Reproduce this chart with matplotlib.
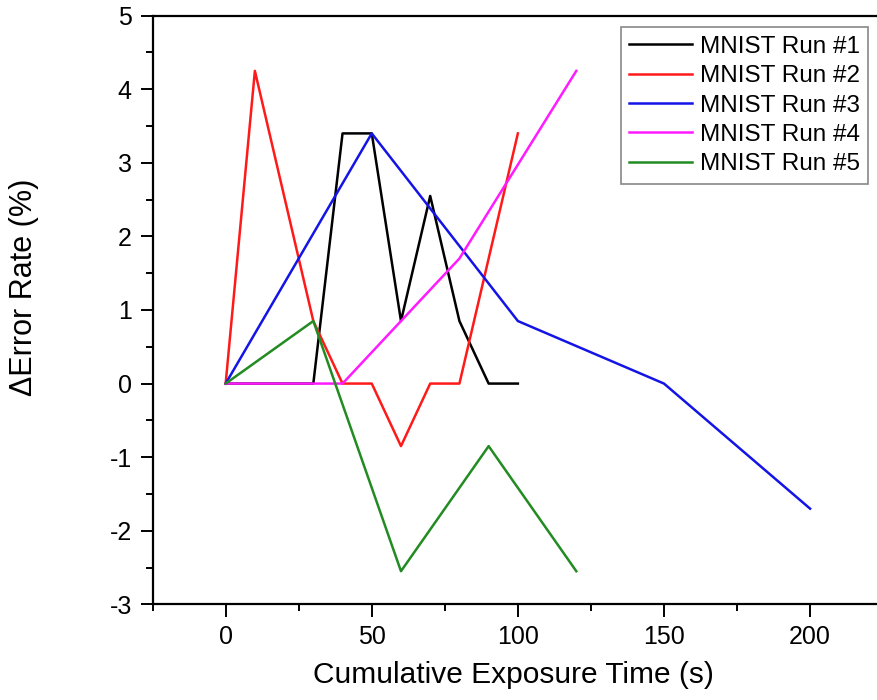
import matplotlib
matplotlib.use("Agg")
import matplotlib.pyplot as plt
from matplotlib.ticker import MultipleLocator

plt.rcParams['font.family'] = ['Liberation Sans', 'DejaVu Sans']
plt.rcParams['axes.unicode_minus'] = False

# cumulative exposure time (s) and change in error rate (%) for each run
run1_t = [0, 10, 20, 30, 40, 50, 60, 70, 80, 90, 100]
run1_err = [0, 0, 0, 0, 3.4, 3.4, 0.85, 2.55, 0.85, 0, 0]

run2_t = [0, 10, 20, 30, 40, 50, 60, 70, 80, 90, 100]
run2_err = [0, 4.25, 2.55, 0.85, 0, 0, -0.85, 0, 0, 1.7, 3.4]

run3_t = [0, 50, 100, 150, 200]
run3_err = [0, 3.4, 0.85, 0, -1.7]

run4_t = [0, 10, 20, 30, 40, 60, 80, 100, 120]
run4_err = [0, 0, 0, 0, 0, 0.85, 1.7, 2.975, 4.25]

run5_t = [0, 30, 60, 90, 120]
run5_err = [0, 0.85, -2.55, -0.85, -2.55]

labels = ['MNIST Run #1', 'MNIST Run #2', 'MNIST Run #3', 'MNIST Run #4', 'MNIST Run #5']
colors = ['black', '#ff1a1a', '#1414e6', '#ff1aff', '#228b22']

fig = plt.figure(figsize=(8.77, 7.0), dpi=100)
ax = fig.add_axes([0.174, 0.1367, 0.833, 0.8409])

runs = [(run1_t, run1_err), (run2_t, run2_err), (run3_t, run3_err),
        (run4_t, run4_err), (run5_t, run5_err)]
for (t, err), lab, col in zip(runs, labels, colors):
    ax.plot(t, err, color=col, lw=1.8, label=lab)

ax.set_xlim(-25, 225)
ax.set_ylim(-3, 5)
ax.xaxis.set_major_locator(MultipleLocator(50))
ax.xaxis.set_minor_locator(MultipleLocator(25))
ax.yaxis.set_major_locator(MultipleLocator(1))
ax.yaxis.set_minor_locator(MultipleLocator(0.5))
ax.set_xticks([0, 50, 100, 150, 200])

ax.tick_params(which='major', direction='out', length=9, width=1.4,
               labelsize=18, pad=6)
ax.tick_params(which='minor', direction='out', length=5, width=1.4)
ax.tick_params(top=False, right=False)
for side in ['left', 'bottom', 'top']:
    ax.spines[side].set_linewidth(1.6)
ax.spines['right'].set_visible(False)

ax.set_xlabel('Cumulative Exposure Time (s)', fontsize=21.5)
ax.set_ylabel('\u0394Error Rate (%)', fontsize=22)
ax.xaxis.set_label_coords(0.494, -0.097)
ax.yaxis.set_label_coords(-0.156, 0.539)

leg = ax.legend(loc='upper right', bbox_to_anchor=(0.9795, 0.980),
                borderaxespad=0, fontsize=17.5, handlelength=2.6,
                handletextpad=0.3, labelspacing=0.3, borderpad=0.35,
                fancybox=False, framealpha=1)
leg.get_frame().set_edgecolor('#888888')
leg.get_frame().set_linewidth(1.2)

fig.savefig('out.png', dpi=100)
